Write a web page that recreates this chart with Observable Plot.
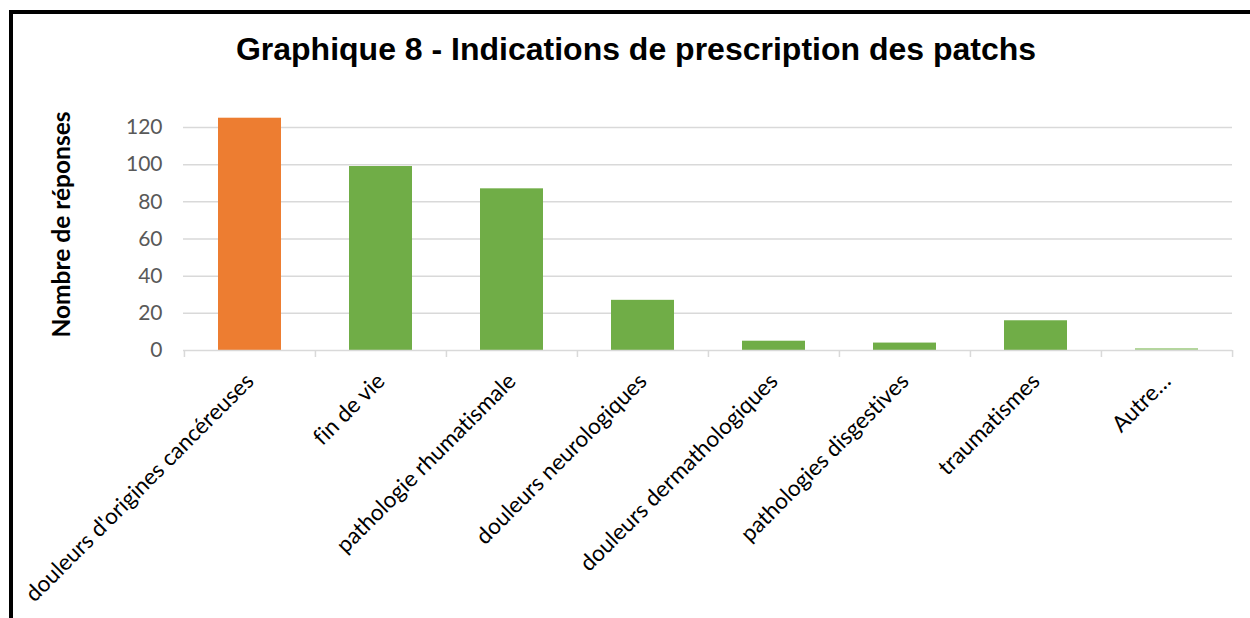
<!DOCTYPE html>
<html><head><meta charset="utf-8">
<script src="https://cdn.jsdelivr.net/npm/d3@7"></script>
<script src="https://cdn.jsdelivr.net/npm/@observablehq/plot@0.6"></script>
<style>
html,body{margin:0;padding:0;background:#fff}
body{width:1250px;height:618px;overflow:hidden;position:relative;font-family:Lato,sans-serif}
#chart{position:absolute;left:0;top:0}
#chart svg text{font-variant-ligatures:none}
#frame{position:absolute;left:9px;top:10px;width:1400px;height:800px;border-left:4px solid #000;border-top:4px solid #000;z-index:2;pointer-events:none}
#title{position:absolute;left:0;width:1272px;top:31px;text-align:center;font:bold 32px "Liberation Sans",Arial,sans-serif;color:#000;z-index:3;line-height:36px}
</style>
</head><body>
<div id="chart"></div>
<div id="frame"></div>
<div id="title"></div>
<script>
const titleText = "Graphique 8 - Indications de prescription des patchs";
const yLabel = "Nombre de réponses";
const categories = [
  "douleurs d'origines cancéreuses",
  "fin de vie",
  "pathologie rhumatismale",
  "douleurs neurologiques",
  "douleurs dermathologiques",
  "pathologies disgestives",
  "traumatismes",
  "Autre…"
];
const values = [125, 99, 87, 27, 5, 4, 16, 1];
const barColors = ["#ED7D31", "#70AD47", "#70AD47", "#70AD47", "#70AD47", "#70AD47", "#70AD47", "#A9D18E"];
const yTicks = [0, 20, 40, 60, 80, 100, 120];

document.getElementById("title").textContent = titleText;

const data = categories.map((c, i) => ({cat: c, value: values[i], color: barColors[i]}));

const W = 1250, H = 618, mL = 183, mR = 18, mT = 127, mB = 268;
const step = (W - mL - mR) / categories.length;
const grid = "#d9d9d9";

const chart = Plot.plot({
  width: W,
  height: H,
  marginLeft: mL,
  marginRight: mR,
  marginTop: mT,
  marginBottom: mB,
  style: {fontFamily: "Lato, sans-serif", background: "transparent", overflow: "visible"},
  x: {domain: categories, paddingInner: 0.52, paddingOuter: 0.26, align: 0.5},
  y: {domain: [0, 120]},
  color: {type: "identity"},
  marks: [
    Plot.gridY(yTicks.filter(t => t > 0), {stroke: grid, strokeOpacity: 1, strokeWidth: 1.5}),
    Plot.axisY(yTicks, {tickSize: 0, tickPadding: 21, fontSize: 21, fill: "#595959", label: null}),
    Plot.barY(data, {x: "cat", y: "value", fill: "color"}),
    Plot.ruleY([0], {stroke: grid, strokeWidth: 1.5}),
    Plot.axisX({tickSize: 7, dx: -step / 2, stroke: grid, strokeWidth: 1.5, text: null, label: null}),
    Plot.axisX([categories[categories.length - 1]], {tickSize: 7, dx: step / 2, stroke: grid, strokeWidth: 1.5, text: null, label: null}),
    Plot.text(categories, {x: d => d, frameAnchor: "bottom", rotate: -45, textAnchor: "end", lineAnchor: "middle", dx: 0, dy: 27, fontSize: 22.5, fill: "#000"}),
    Plot.text([yLabel], {frameAnchor: "left", dx: 69 - mL, dy: 224 - (mT + (H - mB)) / 2, rotate: -90, textAnchor: "middle", lineAnchor: "bottom", fontSize: 24.5, fontWeight: "bold", fill: "#000"})
  ]
});
document.getElementById("chart").appendChild(chart);
</script>
</body></html>
